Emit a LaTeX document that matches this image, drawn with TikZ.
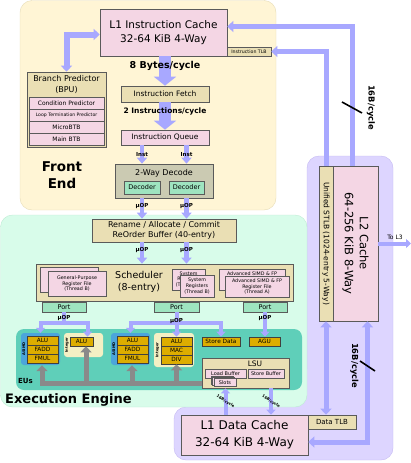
\documentclass[tikz,border=0pt]{standalone}
\usepackage{fontspec}
\setmainfont{DejaVu Sans}
\usetikzlibrary{arrows.meta}

\definecolor{frontbg}{HTML}{FFF5D5}
\definecolor{frontedge}{HTML}{E6DCB6}
\definecolor{execbg}{HTML}{D8FCEA}
\definecolor{execedge}{HTML}{BDEBD3}
\definecolor{l2bg}{HTML}{DDD5FF}
\definecolor{l2edge}{HTML}{C5B9F2}
\definecolor{cachepink}{HTML}{F4D6E4}
\definecolor{tanfill}{HTML}{EADFB4}
\definecolor{decodefill}{HTML}{CBCAB2}
\definecolor{portgreen}{HTML}{9EE4C0}
\definecolor{eubg}{HTML}{5FCFB9}
\definecolor{gold}{HTML}{DDAD00}
\definecolor{asimdbg}{HTML}{4BA5DA}
\definecolor{intbg}{HTML}{F4F0C4}
\definecolor{linkblue}{HTML}{A8A8FF}
\definecolor{busgrey}{HTML}{8A8A8A}
\definecolor{boxedge}{HTML}{5A5A5A}

\begin{document}
\begin{tikzpicture}[x=1pt, y=-1pt,
    box/.style={draw=boxedge, line width=0.6pt, inner sep=0pt, align=center},
    cachebox/.style={box, fill=cachepink},
    tanbox/.style={box, fill=tanfill},
    greenbox/.style={box, fill=portgreen, font=\fontsize{6.5}{7}\selectfont},
    unitbox/.style={box, fill=gold, draw=black!75, minimum width=31pt,
        minimum height=9pt, font=\fontsize{5.8}{6}\selectfont},
    regbox/.style={box, fill=cachepink, font=\fontsize{4.8}{5.8}\selectfont},
    grp/.style={rounded corners=3pt, inner sep=0pt},
    wh/.style 2 args={minimum width=#1pt, minimum height=#2pt},
    tag/.style={inner sep=0pt, font=\bfseries\fontsize{5.5}{6}\selectfont},
    smalltag/.style={inner sep=0pt, font=\bfseries\fontsize{3.8}{4}\selectfont},
    grptag/.style={inner sep=0pt, rotate=90, font=\bfseries\fontsize{3.6}{4}\selectfont},
    link/.style={draw=linkblue, line width=5pt, >={Triangle[width=11pt,length=6pt]}, ->},
    widelink/.style={draw=linkblue, line width=12pt, >={Triangle[width=22pt,length=9pt]}, ->},
    thinlink/.style={draw=linkblue, line width=4.5pt, >={Triangle[width=10pt,length=6pt]}, ->},
    eulink/.style={draw=linkblue, line width=4pt, >={Triangle[width=9pt,length=5pt]}, ->},
    bus/.style={draw=busgrey, line width=5pt, >={Triangle[width=11pt,length=6pt]}, ->},
    tick/.style={draw=black, line width=1.6pt}
]
    \useasboundingbox (0,0) rectangle (411,463);

    % regions
    \filldraw[fill=frontbg, draw=frontedge, rounded corners=12pt] (20,0.5) rectangle (276,210);
    \filldraw[fill=l2bg, draw=l2edge, rounded corners=12pt] (307,380) -- (307,156) -- (393,156)
        -- (393,460) -- (174,460) -- (174,407) -- (280,407) -- (280,380) -- cycle;
    \filldraw[fill=execbg, draw=execedge, rounded corners=12pt] (0.5,215) rectangle (307,407);
    \node[font=\bfseries\fontsize{13.5}{17}\selectfont, align=center] (fetitle) at (62,175.5) {Front\\End};
    \node[anchor=west, inner sep=0pt, font=\bfseries\fontsize{13}{15}\selectfont] (eetitle) at (5,400) {Execution Engine};

    % front end
    \node[cachebox, wh={127}{47}, font=\fontsize{10.5}{14}\selectfont] (l1i) at (163.5,32.5)
        {L1 Instruction Cache\\32-64 KiB 4-Way};
    \node[tanbox, wh={44}{9}, font=\fontsize{4.7}{5}\selectfont] (itlb) at (249,51.5) {Instruction TLB};
    \node[tanbox, wh={79}{75}] (bpu) at (66.5,109.5) {};
    \node[align=center, inner sep=0pt, font=\fontsize{8}{11}\selectfont] (bputitle) at (66.5,84.5)
        {Branch Predictor\\(BPU)};
    \node[cachebox, wh={75}{12}, font=\fontsize{6}{6}\selectfont] (cp) at (66.5,103) {Condition Predictor};
    \node[cachebox, wh={75}{12}, font=\fontsize{4.6}{5}\selectfont] (ltp) at (66.5,115) {Loop Termination Predictor};
    \node[cachebox, wh={75}{12}, font=\fontsize{6}{6}\selectfont] (ubtb) at (66.5,127) {MicroBTB};
    \node[cachebox, wh={75}{12}, font=\fontsize{6}{6}\selectfont] (btb) at (66.5,139) {Main BTB};
    \node[tanbox, wh={88}{16}, font=\fontsize{7.5}{8}\selectfont] (fe) at (165,94) {Instruction Fetch};
    \node[cachebox, wh={88}{15}, font=\fontsize{7.5}{8}\selectfont] (qu) at (165,137.5) {Instruction Queue};
    \node[box, fill=decodefill, wh={98}{34}] (dec) at (164,181) {};
    \node[inner sep=0pt, font=\fontsize{8}{9}\selectfont] (dectitle) at (164,173.5) {2-Way Decode};
    \node[greenbox, wh={36}{13}] (da) at (142,187.5) {Decoder};
    \node[greenbox, wh={35}{13}] (db) at (186.5,187.5) {Decoder};

    % execution engine
    \node[tanbox, wh={144}{23}, font=\fontsize{8}{10.5}\selectfont] (ren) at (164,230.5)
        {Rename / Allocate / Commit\\ReOrder Buffer (40-entry)};
    \node[tanbox, wh={257}{37}] (sch) at (164.5,282.5) {};
    \node[align=center, inner sep=0pt, font=\fontsize{9.5}{12.5}\selectfont] (schtitle) at (139,282)
        {Scheduler\\(8-entry)};
    \node[regbox, wh={58}{25}] (gprb) at (69,279.5) {General-Purpose\\Register File\\(Thread A)};
    \node[regbox, wh={58}{25}] (gpra) at (77,283.5) {General-Purpose\\Register File\\(Thread B)};
    \node[regbox, wh={33}{21}] (sysb) at (188.5,279.5) {System\\Registers\\(Thread A)};
    \node[regbox, wh={34}{22}] (sysa) at (197,286) {System\\Registers\\(Thread B)};
    \node[regbox, wh={66}{21}] (simb) at (252,279.5) {Advanced SIMD \& FP\\Register File\\(Thread B)};
    \node[regbox, wh={64}{21}] (sima) at (257,286.5) {Advanced SIMD \& FP\\Register File\\(Thread A)};
    \node[greenbox, wh={44}{10}] (p1) at (64,307) {Port};
    \node[greenbox, wh={45}{10}] (p2) at (176.5,307) {Port};
    \node[greenbox, wh={44}{10}] (p3) at (265,307) {Port};

    % execution units
    \node[grp, fill=eubg, rounded corners=8pt, wh={286}{61}] (eu) at (159,359.5) {};
    \node[anchor=west, inner sep=0pt, font=\bfseries\fontsize{7}{8}\selectfont] (eutitle) at (18,381) {EUs};
    \node[grp, fill=asimdbg, wh={39}{32}] (as1) at (40.5,349) {};
    \node[grptag] (as1tag) at (23.8,349) {ASIMD};
    \node[unitbox] (alu1) at (42.5,340.5) {ALU};
    \node[unitbox] (fadd1) at (42.5,349.5) {FADD};
    \node[unitbox] (fmul1) at (42.5,358.5) {FMUL};
    \node[grp, fill=intbg, wh={39}{24}] (ig1) at (83.5,345) {};
    \node[grptag] (ig1tag) at (67,345) {Integer};
    \node[unitbox, wh={23}{9}] (ialu1) at (81.5,341.5) {ALU};
    \node[grp, fill=asimdbg, wh={39}{32}] (as2) at (130.5,349) {};
    \node[grptag] (as2tag) at (113.8,349) {ASIMD};
    \node[unitbox] (alu2) at (132.5,340.5) {ALU};
    \node[unitbox] (fadd2) at (132.5,349.5) {FADD};
    \node[unitbox] (fmul2) at (132.5,358.5) {FMUL};
    \node[grp, fill=intbg, wh={40}{34}] (ig2) at (174,350) {};
    \node[grptag] (ig2tag) at (157.5,350) {Integer};
    \node[unitbox] (ialu2) at (176.5,341.5) {ALU};
    \node[unitbox] (mac) at (176.5,350.5) {MAC};
    \node[unitbox] (div) at (176.5,359.5) {DIV};
    \node[unitbox, wh={38}{9}] (sd) at (221,341.5) {Store Data};
    \node[unitbox] (agu) at (264.5,341.5) {AGU};
    \node[tanbox, wh={87}{30}] (lsu) at (245.5,373) {};
    \node[inner sep=0pt, font=\fontsize{7.5}{8}\selectfont] (lsutitle) at (255,363.5) {LSU};
    \node[regbox, wh={41}{9}, font=\fontsize{5}{5}\selectfont] (lb) at (225.5,373.5) {Load Buffer};
    \node[regbox, wh={36}{9}, font=\fontsize{5}{5}\selectfont] (sb) at (266,373.5) {Store Buffer};
    \node[regbox, wh={22}{8}] (slotc) at (222,380.5) {};
    \node[regbox, wh={22}{8}] (slotb) at (223.5,381.5) {};
    \node[regbox, wh={22}{8}, font=\fontsize{5}{5}\selectfont] (slots) at (225,382.5) {Slots};

    % memory
    \node[cachebox, wh={127}{40}, font=\fontsize{12}{17}\selectfont] (l1d) at (244.5,435)
        {L1 Data Cache\\32-64 KiB 4-Way};
    \node[tanbox, wh={48}{14}, font=\fontsize{7}{8}\selectfont] (dtlb) at (332,422) {Data TLB};
    \node[cachebox, wh={45}{155}] (l2) at (355.5,243.5) {};
    \node[rotate=-90, align=center, inner sep=0pt, font=\fontsize{11.5}{15}\selectfont] (l2txt) at (l2)
        {L2 Cache\\64-256 KiB 8-Way};
    \node[tanbox, wh={14}{155}] (stlb) at (326,243.5) {};
    \node[rotate=-90, inner sep=0pt, font=\fontsize{7.5}{8}\selectfont] (stlbtxt) at (stlb)
        {Unified STLB (1024-entry 5-Way)};
    \coordinate (l3) at (411,243.5);

    % links
    \draw[link, line width=6pt, <->] (bpu.north) |- ([yshift=-2pt]l1i.west);
    \draw[link] ([xshift=-3pt]l2.north) |- ([yshift=6pt]l1i.east);
    \draw[link] (stlb.north) |- (itlb.east);
    \draw[tick] (342,102) -- (362,113);
    \node[rotate=-90, inner sep=0pt, font=\bfseries\fontsize{8.3}{9}\selectfont] (bw1) at (371,107.5) {16B/cycle};
    \draw[widelink] (l1i.south -| fe) -- node[pos=0.33, font=\bfseries\fontsize{9.5}{10}\selectfont] (bw8) {8 Bytes/cycle} (fe.north);
    \draw[widelink] (fe.south) -- node[pos=0.33, font=\bfseries\fontsize{7.5}{8}\selectfont] (bw2) {2 Instructions/cycle} (qu.north);
    \draw[thinlink] (qu.south -| da) -- node[tag] (ia) {Inst} (dec.north -| da);
    \draw[thinlink] (qu.south -| db) -- node[tag] (ib) {Inst} (dec.north -| db);
    \draw[thinlink] (dec.south -| da) -- node[tag, pos=0.4] (ua) {µOP} (ren.north -| da);
    \draw[thinlink] (dec.south -| db) -- node[tag, pos=0.4] (ub) {µOP} (ren.north -| db);
    \draw[thinlink] (ren.south -| da) -- node[tag, pos=0.35] (uc) {µOP} (sch.north -| da);
    \draw[thinlink] (ren.south -| db) -- node[tag, pos=0.35] (ud) {µOP} (sch.north -| db);

    \draw[eulink] (p1.south) -- ++(0,11) -| (as1.north);
    \draw[eulink] (p1.south) -- node[tag] (u1) {µOP} ++(0,11) -| ([xshift=6pt]ialu1.north);
    \draw[eulink] (p2.south) -- ++(0,11) -| (as2.north);
    \draw[eulink] (p2.south) -- ++(0,11) -| (sd.north);
    \draw[eulink] (p2.south) -- node[tag, pos=0.35] (u2) {µOP} (p2.south |- ialu2.north);
    \draw[eulink] (p3.south) -- node[tag, pos=0.22] (u3) {µOP} (p3.south |- agu.north);

    \draw[bus] ([yshift=-10pt]lsu.west) -| ([xshift=1.5pt]as1.south);
    \draw[bus] ([yshift=-10pt]lsu.west) -| ([xshift=4.5pt]ialu1.south);
    \draw[bus] ([yshift=-10pt]lsu.west) -| ([xshift=1.5pt]as2.south);
    \draw[bus] ([yshift=-10pt]lsu.west) -| (div.south);

    \draw[eulink] (l1d.north -| lb) -- node[smalltag, rotate=-33] (bwl) {16B/cycle} (lsu.south -| lb);
    \draw[eulink] ([xshift=5pt]lsu.south -| sb) -- node[smalltag, rotate=-33] (bws) {16B/cycle} ([xshift=5pt]l1d.north -| sb);

    \draw[link, <->] (stlb.south) -- (stlb.south |- dtlb.north);
    \draw[link, <->] ([xshift=12pt]l2.south) |- ([yshift=-7pt]l1d.east);
    \draw[tick] (360,361) -- (375,371);
    \node[rotate=-90, inner sep=0pt, font=\bfseries\fontsize{8.3}{9}\selectfont] (bw3) at (354.5,365.5) {16B/cycle};
    \draw[eulink] (l2.east) -- (l3);
    \node[inner sep=0pt, font=\fontsize{6}{6}\selectfont] (l3txt) at (395,237) {To L3};
\end{tikzpicture}
\end{document}
